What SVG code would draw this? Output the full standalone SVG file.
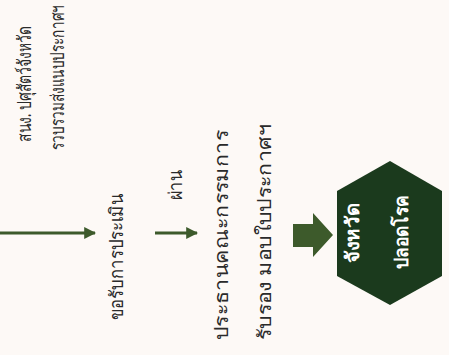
<svg xmlns="http://www.w3.org/2000/svg" width="449" height="355" viewBox="0 0 449 355">
<style>
.t{font-family:"Noto Sans","DejaVu Sans",sans-serif;font-size:19px;fill:#2a2a2a}
.w{font-family:"Noto Sans","DejaVu Sans",sans-serif;font-size:19px;fill:#ffffff;font-weight:bold}
.ln{stroke:#3d5a2b;stroke-width:3;fill:none}
</style>
<defs>
<marker id="ah" viewBox="0 0 10 10" refX="9" refY="5" markerWidth="4" markerHeight="4" orient="auto" markerUnits="strokeWidth">
<path d="M0,0 L10,5 L0,10 z" fill="#3d5a2b"/>
</marker>
</defs>
<rect width="449" height="355" fill="#fdf9f6"/>
<g id="connectors">
<line class="ln" x1="0" y1="233" x2="95" y2="233" marker-end="url(#ah)"/>
<line class="ln" x1="155" y1="233" x2="197" y2="233" marker-end="url(#ah)"/>
<text class="t" transform="translate(182,200) rotate(-90)" textLength="30" lengthAdjust="spacingAndGlyphs">ผ่าน</text>
<path d="M293,224 L313,224 L313,213 L333,235 L313,257 L313,247 L293,247 z" fill="#3d5a2b"/>
</g>
<g id="n1">
<text class="t" transform="translate(31,142) rotate(-90)" textLength="116" lengthAdjust="spacingAndGlyphs">สนง. ปศุสัตว์จังหวัด</text>
<text class="t" transform="translate(64,150) rotate(-90)" textLength="145" lengthAdjust="spacingAndGlyphs">รวบรวมส่งแนบประกาศฯ</text>
</g>
<g id="n2">
<text class="t" transform="translate(123,320) rotate(-90)" textLength="126" lengthAdjust="spacingAndGlyphs">ขอรับการประเมิน</text>
</g>
<g id="n3">
<text class="t" transform="translate(228,340) rotate(-90)" textLength="210" lengthAdjust="spacingAndGlyphs">ประธานคณะกรรมการ</text>
<text class="t" transform="translate(271,340) rotate(-90)" textLength="216" lengthAdjust="spacingAndGlyphs">รับรอง มอบใบประกาศฯ</text>
</g>
<g id="n4">
<path d="M390,161 L442,191 L442,276 L390,305 L337,276 L337,191 z" fill="#1b3a1d"/>
<text class="w" text-anchor="middle" transform="translate(359,233) rotate(-90)" textLength="60" lengthAdjust="spacingAndGlyphs">จังหวัด</text>
<text class="w" text-anchor="middle" transform="translate(408,232) rotate(-90)" textLength="74" lengthAdjust="spacingAndGlyphs">ปลอดโรค</text>
</g>
</svg>
